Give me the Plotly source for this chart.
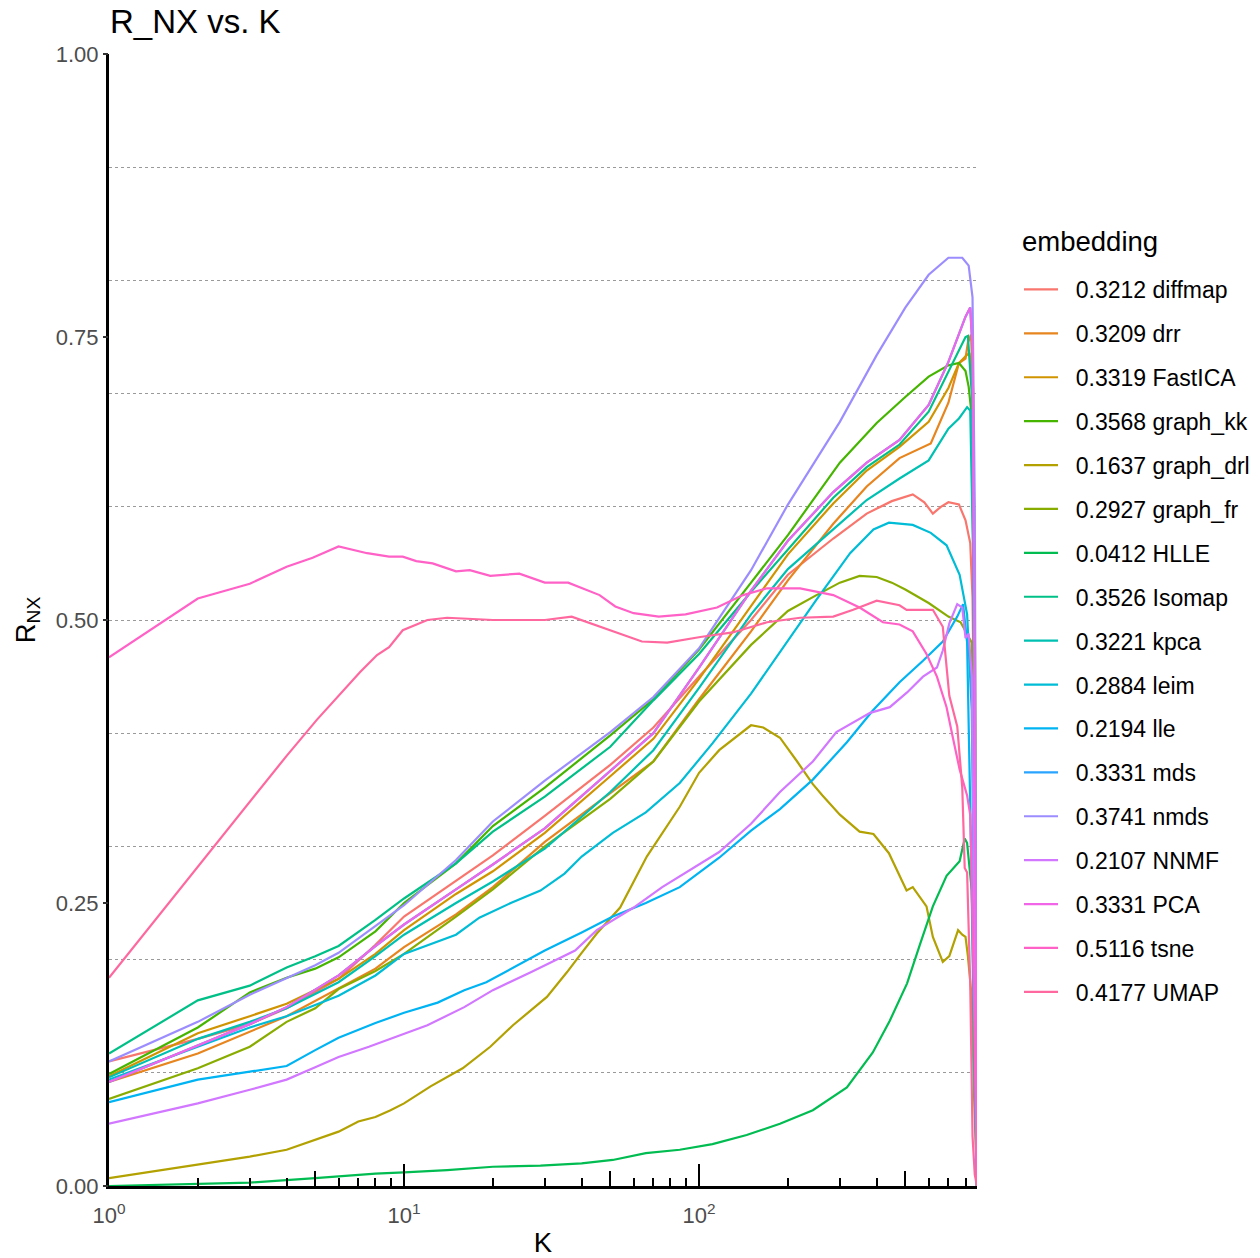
import math
import plotly.graph_objects as go

# ---------------- data ----------------
k_diffmap = [1, 2, 3, 4, 6, 8, 10, 15, 20, 30, 50, 70, 100, 150, 200, 285, 370, 450, 530, 580, 620, 660, 700, 760, 800, 830, 845, 860, 875]
r_diffmap = [.110, .130, .143, .157, .183, .213, .238, .270, .292, .327, .372, .405, .450, .500, .540, .572, .594, .605, .611, .604, .594, .600, .604, .602, .588, .568, .52, .35, 0]

k_drr = [1, 2, 4, 6, 8, 10, 15, 20, 30, 50, 70, 100, 150, 200, 285, 370, 478, 610, 655, 700, 760, 800, 815, 835, 850, 865, 875]
r_drr = [.092, .117, .150, .175, .192, .211, .240, .264, .304, .347, .375, .430, .490, .535, .585, .618, .643, .656, .674, .692, .727, .731, .745, .752, .70, .40, 0]

k_fastica = [1, 2, 3, 4, 6, 8, 10, 15, 20, 30, 50, 70, 100, 150, 200, 285, 370, 478, 600, 700, 760, 800, 825, 840, 855, 865, 875]
r_fastica = [.097, .135, .150, .161, .183, .205, .226, .258, .278, .312, .362, .395, .448, .512, .558, .603, .632, .653, .675, .705, .727, .733, .736, .72, .60, .30, 0]

k_graph_kk = [1, 2, 3, 4, 5, 6, 8, 10, 15, 20, 30, 50, 70, 100, 150, 200, 300, 400, 500, 600, 700, 760, 800, 820, 840, 855, 875]
r_graph_kk = [.099, .140, .171, .184, .192, .202, .225, .250, .285, .318, .352, .398, .430, .474, .533, .575, .639, .674, .697, .715, .725, .727, .720, .706, .68, .50, 0]

k_graph_drl = [1, 2, 3, 4, 5, 6, 7, 8, 9, 10, 12.3, 15.8, 19.6, 23.4, 30.5, 35.7, 40, 45, 54, 66.5, 86, 100, 117, 150, 165, 188, 215, 243, 262, 300, 350, 390, 440, 505, 530, 590, 620, 670, 705, 755, 780, 800, 815, 840, 855, 875]
r_graph_drl = [.007, .019, .026, .032, .041, .048, .057, .061, .067, .073, .088, .104, .123, .142, .167, .189, .206, .223, .246, .291, .335, .365, .385, .407, .405, .396, .375, .355, .345, .328, .313, .311, .294, .261, .264, .247, .220, .198, .203, .226, .222, .220, .203, .166, .08, 0]

k_graph_fr = [1, 2, 3, 4, 5, 6, 8, 10, 15, 20, 30, 50, 70, 100, 150, 200, 250, 300, 350, 400, 450, 500, 600, 700, 770, 810, 840, 860, 875]
r_graph_fr = [.077, .104, .123, .145, .157, .174, .190, .205, .238, .262, .300, .342, .375, .428, .478, .508, .522, .533, .539, .538, .533, .527, .515, .503, .498, .488, .48, .30, 0]

k_hlle = [1, 2, 3, 5, 8, 10, 14, 20, 29, 40, 51, 66, 86, 111, 145, 188, 243, 317, 388, 443, 507, 560, 620, 690, 764, 795, 810, 840, 860, 875]
r_hlle = [0, .002, .003, .007, .011, .012, .014, .017, .018, .020, .023, .029, .032, .037, .045, .055, .067, .087, .118, .146, .179, .213, .247, .274, .287, .307, .303, .261, .10, 0]

k_isomap = [1, 2, 3, 4, 5, 6, 8, 10, 15, 20, 30, 50, 70, 100, 150, 200, 285, 370, 478, 600, 700, 800, 815, 840, 860, 875]
r_isomap = [.117, .164, .177, .193, .203, .212, .235, .254, .285, .313, .344, .388, .429, .470, .525, .562, .608, .635, .655, .684, .720, .750, .751, .70, .40, 0]

k_kpca = [1, 2, 3, 4, 6, 8, 10, 15, 20, 30, 50, 70, 100, 150, 200, 285, 370, 478, 600, 700, 760, 810, 830, 850, 865, 875]
r_kpca = [.096, .130, .145, .157, .180, .203, .222, .250, .269, .298, .348, .385, .440, .505, .545, .580, .606, .625, .641, .669, .678, .688, .685, .55, .25, 0]

k_leim = [1, 2, 3, 4, 6, 8, 10, 15, 18, 23, 29, 35, 40, 51, 66, 86, 111, 150, 193, 250, 325, 390, 440, 530, 610, 690, 764, 810, 840, 860, 875]
r_leim = [.094, .123, .140, .150, .168, .186, .205, .222, .237, .250, .261, .276, .291, .312, .330, .356, .391, .435, .476, .518, .559, .580, .586, .584, .577, .566, .540, .505, .42, .20, 0]

k_lle = [1, 2, 3, 4, 5, 6, 8, 10, 13, 16, 19, 25, 30, 40, 51, 66, 86, 117, 150, 188, 243, 317, 388, 478, 574, 670, 750, 785, 810, 835, 860, 875]
r_lle = [.074, .094, .101, .106, .120, .131, .144, .153, .162, .173, .180, .197, .208, .224, .238, .250, .264, .290, .314, .333, .359, .392, .420, .445, .464, .481, .503, .514, .48, .30, .08, 0]

k_nmds = [1, 2, 3, 4, 5, 6, 8, 10, 15, 20, 30, 50, 70, 100, 150, 200, 300, 400, 500, 600, 700, 780, 820, 845, 860, 875]
r_nmds = [.110, .145, .169, .184, .195, .206, .230, .248, .288, .322, .358, .401, .432, .475, .544, .602, .675, .734, .776, .805, .820, .820, .813, .785, .60, 0]

k_nnmf = [1, 2, 3, 4, 5, 6, 7.6, 9.4, 12, 16, 20, 27, 33, 38, 45, 60, 75, 117, 150, 188, 243, 292, 380, 443, 507, 574, 640, 670, 705, 750, 780, 800, 820, 840, 860, 875]
r_nnmf = [.055, .073, .085, .094, .105, .114, .123, .132, .142, .158, .173, .189, .200, .208, .226, .246, .264, .295, .320, .348, .375, .401, .418, .423, .436, .450, .458, .473, .497, .514, .511, .484, .488, .45, .20, 0]

k_pca = [1, 2, 3, 4, 6, 8, 10, 15, 20, 30, 50, 70, 100, 150, 200, 285, 370, 478, 600, 700, 800, 830, 845, 860, 875]
r_pca = [.092, .124, .143, .158, .186, .212, .231, .262, .284, .316, .367, .400, .458, .526, .570, .613, .639, .659, .690, .728, .768, .776, .74, .40, 0]

# mds coincides with PCA (same AUC)
k_mds = list(k_pca)
r_mds = list(r_pca)

k_tsne = [1, 2, 3, 4, 4.9, 6, 7.5, 8.9, 9.9, 11, 12.5, 15, 16.7, 19.6, 24.6, 30, 36, 46, 52, 60, 73, 90, 115, 141, 170, 220, 285, 350, 420, 478, 530, 590, 640, 690, 725, 764, 810, 830, 850, 865, 875]
r_tsne = [.467, .519, .532, .547, .555, .565, .559, .556, .556, .552, .550, .543, .544, .539, .541, .533, .533, .522, .512, .506, .503, .505, .511, .522, .528, .528, .522, .511, .498, .496, .490, .470, .450, .423, .396, .368, .345, .328, .20, .05, 0]

k_umap = [1, 2, 3, 4, 5.07, 6.1, 7.1, 8.1, 8.9, 9.9, 11, 12, 14, 17, 20, 25, 30, 37, 46, 52, 64, 78, 101, 130, 170, 220, 285, 333, 400, 478, 505, 620, 670, 705, 750, 780, 795, 810, 830, 845, 860, 875]
r_umap = [.184, .282, .340, .380, .412, .435, .454, .469, .476, .491, .496, .500, .502, .501, .500, .500, .500, .503, .494, .489, .481, .480, .485, .489, .498, .502, .503, .509, .517, .513, .509, .509, .494, .433, .406, .352, .281, .277, .179, .044, .01, 0]

legend_labels = ["0.3212 diffmap", "0.3209 drr", "0.3319 FastICA", "0.3568 graph_kk",
                 "0.1637 graph_drl", "0.2927 graph_fr", "0.0412 HLLE", "0.3526 Isomap",
                 "0.3221 kpca", "0.2884 leim", "0.2194 lle", "0.3331 mds", "0.3741 nmds",
                 "0.2107 NNMF", "0.3331 PCA", "0.5116 tsne", "0.4177 UMAP"]
hue_index = [0, 1, 2, 5, 3, 4, 6, 7, 8, 9, 10, 11, 12, 13, 14, 15, 16]
k_lists = [k_diffmap, k_drr, k_fastica, k_graph_kk, k_graph_drl, k_graph_fr, k_hlle, k_isomap,
           k_kpca, k_leim, k_lle, k_mds, k_nmds, k_nnmf, k_pca, k_tsne, k_umap]
r_lists = [r_diffmap, r_drr, r_fastica, r_graph_kk, r_graph_drl, r_graph_fr, r_hlle, r_isomap,
           r_kpca, r_leim, r_lle, r_mds, r_nmds, r_nnmf, r_pca, r_tsne, r_umap]

y_tick_vals = [0, 0.25, 0.5, 0.75, 1.0]
y_tick_text = ["0.00", "0.25", "0.50", "0.75", "1.00"]
y_grid_vals = [0.1, 0.2, 0.3, 0.4, 0.5, 0.6, 0.7, 0.8, 0.9]
x_major_vals = [1, 10, 100]
x_major_text = ["10<sup>0</sup>", "10<sup>1</sup>", "10<sup>2</sup>"]
x_mid_vals = [5, 50, 500]
x_minor_vals = [2, 3, 4, 6, 7, 8, 9, 20, 30, 40, 60, 70, 80, 90, 200, 300, 400, 600, 700, 800]
K_MAX = 875


# ---------------- ggplot2 hue palette (HCL, l=65, c=100) ----------------
def hcl_hex(h, c=100.0, l=65.0):
    hr = math.radians(h)
    U = c * math.cos(hr)
    V = c * math.sin(hr)
    Xn, Yn, Zn = 95.047, 100.0, 108.883
    Y = Yn * ((l + 16) / 116) ** 3 if l > 8 else Yn * l / 903.3
    dn = Xn + 15 * Yn + 3 * Zn
    un, vn = 4 * Xn / dn, 9 * Yn / dn
    u = U / (13 * l) + un
    v = V / (13 * l) + vn
    X = 9.0 * Y * u / (4 * v)
    Z = -X / 3 - 5 * Y + 3 * Y / v
    X, Y, Z = X / 100, Y / 100, Z / 100
    rl = 3.240479 * X - 1.537150 * Y - 0.498535 * Z
    gl = -0.969256 * X + 1.875992 * Y + 0.041556 * Z
    bl = 0.055648 * X - 0.204043 * Y + 1.057311 * Z

    def gam(c_):
        c_ = 12.92 * c_ if c_ <= 0.0031308 else 1.055 * (c_ ** (1 / 2.4)) - 0.055
        return int(round(min(1, max(0, c_)) * 255))

    return "#%02X%02X%02X" % (gam(rl), gam(gl), gam(bl))


n_levels = 17
hues = [15 + i * 360.0 / n_levels for i in range(n_levels)]
palette = [hcl_hex(h) for h in hues]

FONT = "Liberation Sans, Arial, Helvetica, sans-serif"
NBSP = "\u00a0"

fig = go.Figure()
# empty helper traces so the overlay axes (tick marks / labels) get drawn
fig.add_trace(go.Scatter(x=[], y=[], xaxis="x2", yaxis="y", showlegend=False, hoverinfo="skip"))
fig.add_trace(go.Scatter(x=[], y=[], xaxis="x", yaxis="y2", showlegend=False, hoverinfo="skip"))

for lab, hi, kk, rr in zip(legend_labels, hue_index, k_lists, r_lists):
    fig.add_trace(go.Scatter(
        x=kk, y=rr, mode="lines", name=NBSP * 2 + lab, legendgroup=lab,
        line=dict(color=palette[hi], width=2.2),
    ))

xr = [0, math.log10(K_MAX)]
PW, PH, L, B = 868, 1132, 109, 72

fig.update_layout(
    width=1260, height=1258,
    margin=dict(l=L, r=1260 - L - PW, t=54, b=B, autoexpand=False),
    paper_bgcolor="white", plot_bgcolor="white",
    font=dict(family=FONT, color="black"),
    title=dict(text="R_NX vs. K", x=110 / 1260, xanchor="left", xref="container",
               y=1 - 21 / 1258, yanchor="middle", yref="container",
               font=dict(size=33, color="black", family=FONT)),
    showlegend=True,
    legend=dict(
        font=dict(size=23, color="black"),
        x=(1019 - L) / PW, xanchor="left",
        y=(1186 - 268) / PH, yanchor="top",
        traceorder="grouped", tracegroupgap=11,
        bgcolor="rgba(0,0,0,0)", borderwidth=0,
        itemwidth=34,
    ),
    annotations=[dict(
        text="embedding", xref="paper", yref="paper",
        x=(1020 - L) / PW, xanchor="left", y=(1186 - 242) / PH, yanchor="middle",
        showarrow=False, font=dict(size=27.5, color="black", family=FONT),
    )],
    xaxis=dict(
        type="log", range=xr, showgrid=False, zeroline=False,
        tickmode="array", tickvals=x_major_vals, ticktext=x_major_text,
        ticks="inside", ticklen=22, tickwidth=2, tickcolor="black",
        tickfont=dict(size=22, color="#4D4D4D"),
        ticklabelstandoff=8,
        showline=True, linecolor="black", linewidth=2.5,
        minor=dict(tickmode="array", tickvals=x_minor_vals, ticks="inside",
                   ticklen=8, tickwidth=2, tickcolor="black", showgrid=False),
        title=dict(text="K", font=dict(size=27.5, color="black"), standoff=6),
        automargin=False,
    ),
    xaxis2=dict(
        type="log", range=xr, overlaying="x", anchor="y", side="bottom",
        showgrid=False, zeroline=False, showline=False,
        tickmode="array", tickvals=x_mid_vals, showticklabels=False,
        ticks="inside", ticklen=15, tickwidth=2, tickcolor="black",
        automargin=False,
    ),
    yaxis=dict(
        range=[0, 1], tickmode="array", tickvals=y_grid_vals, showticklabels=False,
        ticks="", showgrid=True, gridcolor="#9a9a9a", gridwidth=1, griddash="dot",
        zeroline=False, showline=True, linecolor="black", linewidth=2.5,
        automargin=False,
    ),
    yaxis2=dict(
        range=[0, 1], overlaying="y", anchor="x", side="left",
        tickmode="array", tickvals=y_tick_vals, ticktext=y_tick_text,
        ticks="outside", ticklen=5, tickwidth=2, tickcolor="#333333",
        tickfont=dict(size=22, color="#4D4D4D"),
        showgrid=False, zeroline=False, showline=False,
        title=dict(text="R<sub>NX</sub>", font=dict(size=27.5, color="black"), standoff=12),
        automargin=False,
    ),
)

fig.write_html("out.html")
